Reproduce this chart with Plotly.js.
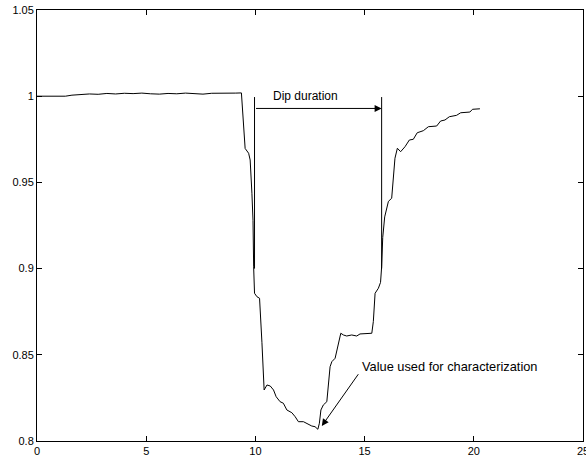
<!DOCTYPE html>
<html>
<head>
<meta charset="utf-8">
<script src="https://cdn.plot.ly/plotly-3.0.1.min.js"></script>
<style>
  html, body { margin: 0; padding: 0; background: #fff; }
  #chart { width: 586px; height: 461px; }
</style>
</head>
<body>
<div id="chart"></div>
<script>
// Normalised signal level over time, showing a voltage dip and recovery
const time = [
  0, 0.5, 1.0, 1.3, 1.6, 2.0, 2.4, 2.8, 3.2, 3.6, 4.0, 4.4, 4.8, 5.2, 5.6,
  6.0, 6.4, 6.8, 7.2, 7.6, 8.0, 8.4, 8.8, 9.1, 9.36,
  9.46, 9.53, 9.69, 9.76, 9.84, 9.89, 9.92, 9.96, 10.07, 10.19,
  10.3, 10.4, 10.53, 10.68, 10.83, 10.95, 11.13, 11.28, 11.44, 11.67, 11.82,
  11.97, 12.2, 12.35, 12.58, 12.73, 12.86, 12.93, 13.0, 13.11, 13.27,
  13.42, 13.5, 13.65, 13.73, 13.8, 13.91, 14.03, 14.18, 14.41, 14.64, 14.79,
  15.02, 15.33, 15.4, 15.48, 15.63, 15.73, 15.78, 15.83, 15.92, 16.01, 16.09,
  16.24, 16.39, 16.5, 16.65, 16.85, 17.05, 17.23, 17.41, 17.69, 17.92, 18.3,
  18.48, 18.68, 18.88, 19.21, 19.4, 19.82, 19.94, 20.28
];
const level = [
  1.0, 1.0, 1.0, 1.0, 1.0006, 1.0009, 1.0013, 1.0011, 1.0016, 1.0013, 1.0017,
  1.0015, 1.0018, 1.0014, 1.0012, 1.0016, 1.0014, 1.0018, 1.0016, 1.0012,
  1.0017, 1.0016, 1.0019, 1.0018, 1.0019,
  0.9825, 0.9697, 0.9669, 0.963, 0.9437, 0.928, 0.901, 0.8857, 0.8837, 0.8828,
  0.857, 0.8296, 0.8325, 0.8319, 0.8296, 0.8257, 0.8228, 0.8219, 0.818, 0.8164,
  0.8141, 0.8112, 0.8112, 0.8103, 0.8087, 0.8083, 0.8068, 0.8103, 0.818,
  0.8209, 0.8228, 0.8431, 0.846, 0.848, 0.8528, 0.8576, 0.8625, 0.8615,
  0.8609, 0.8615, 0.8609, 0.8621, 0.8621, 0.8625, 0.8693, 0.8857, 0.8886,
  0.892, 0.901, 0.918, 0.93, 0.936, 0.939, 0.9408, 0.964, 0.9698, 0.9678,
  0.9707, 0.9746, 0.975, 0.9788, 0.98, 0.9823, 0.9827, 0.9856, 0.9862, 0.9881,
  0.9889, 0.9904, 0.9908, 0.9924, 0.9927
];

// Dip duration markers and the minimum used for characterisation
const dipStart = 9.96;
const dipEnd = 15.78;
const markerTop = 0.9995;
const markerBottom = 0.9;
const durationLevel = 0.9929;
const minTime = 13.04;
const minLevel = 0.8087;

const family = 'Liberation Sans, Arial, sans-serif';
const font = { family: family, size: 11, color: '#000' };

const trace = {
  x: time, y: level, type: 'scatter', mode: 'lines',
  line: { color: '#000', width: 1 }, hoverinfo: 'skip'
};

const axisBase = {
  showgrid: false, zeroline: false, showline: true, linecolor: '#000', linewidth: 1,
  mirror: 'ticks', ticks: 'inside', ticklen: 5, tickcolor: '#000', tickwidth: 1,
  tickfont: font, ticklabeloverflow: 'allow', automargin: false
};

const layout = {
  width: 586, height: 461,
  margin: { l: 37, r: 3, t: 10, b: 20 },
  paper_bgcolor: '#fff', plot_bgcolor: '#fff',
  showlegend: false,
  font: font,
  xaxis: Object.assign({}, axisBase, {
    range: [0, 25], tickvals: [0, 5, 10, 15, 20, 25], ticktext: ['0', '5', '10', '15', '20', '25']
  }),
  yaxis: Object.assign({}, axisBase, {
    range: [0.8, 1.05], tickvals: [0.8, 0.85, 0.9, 0.95, 1, 1.05],
    ticktext: ['0.8', '0.85', '0.9', '0.95', '1', '1.05']
  }),
  shapes: [
    { type: 'line', xref: 'x', yref: 'y', x0: dipStart, x1: dipStart, y0: markerBottom, y1: markerTop,
      line: { color: '#000', width: 1 } },
    { type: 'line', xref: 'x', yref: 'y', x0: dipEnd, x1: dipEnd, y0: markerBottom, y1: markerTop,
      line: { color: '#000', width: 1 } }
  ],
  annotations: [
    { x: dipEnd, y: durationLevel, ax: dipStart, ay: durationLevel, xref: 'x', yref: 'y',
      axref: 'x', ayref: 'y', text: '', showarrow: true, arrowhead: 2, arrowsize: 1.4,
      arrowwidth: 1, arrowcolor: '#000', standoff: 0, startstandoff: 0 },
    { x: 10.72, y: 1.0003, xref: 'x', yref: 'y', text: 'Dip duration', showarrow: false,
      xanchor: 'left', yanchor: 'middle', font: { family: family, size: 12, color: '#000' } },
    { x: minTime, y: minLevel, ax: 14.76, ay: 0.8396, xref: 'x', yref: 'y',
      axref: 'x', ayref: 'y', text: '', showarrow: true, arrowhead: 2, arrowsize: 1.4,
      arrowwidth: 1, arrowcolor: '#000', standoff: 0, startstandoff: 0 },
    { x: 14.78, y: 0.843, xref: 'x', yref: 'y', text: 'Value used for characterization',
      showarrow: false, xanchor: 'left', yanchor: 'middle', font: { family: family, size: 12.8, color: '#000' } }
  ]
};

Plotly.newPlot('chart', [trace], layout, { displayModeBar: false, staticPlot: true });
</script>
</body>
</html>
